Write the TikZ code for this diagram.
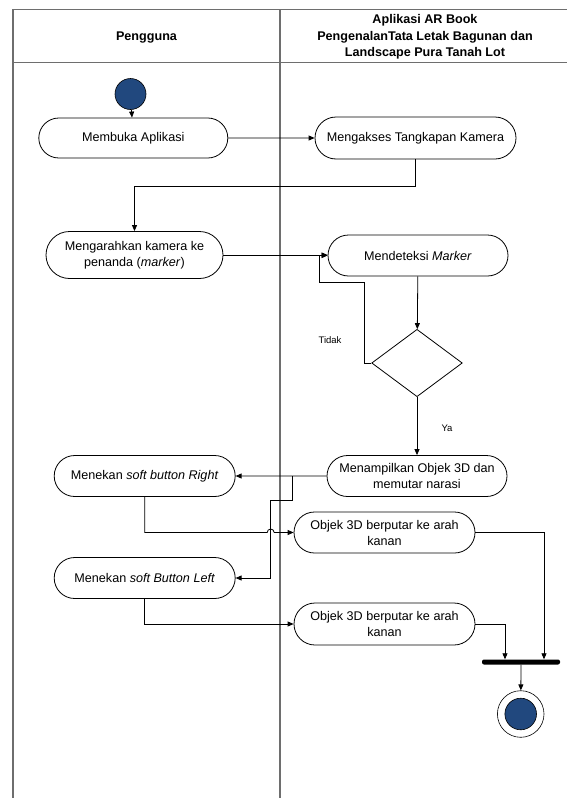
\documentclass[tikz,border=0pt]{standalone}
\usepackage{fontspec}
\setmainfont{Liberation Sans}
\usetikzlibrary{shapes.misc,shapes.geometric,arrows.meta,calc}
\definecolor{umlblue}{RGB}{33,72,126}
\definecolor{framegray}{RGB}{110,110,110}
\begin{document}
\begin{tikzpicture}[x=1pt,y=-1pt,
  act/.style={rounded rectangle, draw, line width=0.8pt, minimum height=41pt, align=center,
    font=\fontsize{12.6}{16}\selectfont, inner sep=2pt},
  arr/.style={line width=0.8pt, -{Triangle[length=6pt,width=5pt]}},
  plain/.style={line width=0.8pt},
  lane/.style={draw=framegray, line width=1.3pt},
  hdr/.style={font=\bfseries\fontsize{12.6}{16.5}\selectfont, align=center},
  lbl/.style={font=\fontsize{9.5}{11}\selectfont}
]
\useasboundingbox (0,0) rectangle (567,798);
% swimlane frame
\draw[lane] (567,9.3) -- (13,9.3) -- (13,798);
\draw[lane] (13,62.3) -- (567,62.3);
\draw[lane] (280,9.3) -- (280,798);
\node[hdr] (h1) at (146.5,37) {Pengguna};
\node[hdr] (h2) at (425,37) {Aplikasi AR Book\\PengenalanTata Letak Bagunan dan\\Landscape Pura Tanah Lot};

% nodes
\node[circle, draw, fill=umlblue, line width=0.6pt, minimum size=31pt, inner sep=0] (start) at (130.5,94) {};
\node[act, minimum width=193pt, minimum height=40pt] (m1) at (133.3,138) {Membuka Aplikasi};
\node[act, minimum width=205pt, minimum height=42pt] (m2) at (415.5,138) {Mengakses Tangkapan Kamera};
\node[act, minimum width=181pt, minimum height=47pt] (m3) at (134.5,255) {Mengarahkan kamera ke\\penanda (\textit{marker})};
\node[act, minimum width=184pt] (m4) at (418,255.5) {Mendeteksi \textit{Marker}};
\node[diamond, draw, line width=0.8pt, minimum width=90.6pt, minimum height=67.4pt, inner sep=0] (d) at (417,363) {};
\node[act, minimum width=184pt] (m5) at (417,476) {Menampilkan Objek 3D dan\\memutar narasi};
\node[act, minimum width=185pt] (r) at (144.7,476) {Menekan \textit{soft button Right}};
\node[act, minimum width=185pt] (o1) at (384.5,532.5) {Objek 3D berputar ke arah\\kanan};
\node[act, minimum width=185pt] (l) at (144.7,578) {Menekan \textit{soft Button Left}};
\node[act, minimum width=185pt, minimum height=42pt] (o2) at (384.5,624) {Objek 3D berputar ke arah\\kanan};
\node[fill=black, inner sep=0, minimum width=78pt, minimum height=5pt, rounded corners=2pt] (bar) at (521,662) {};
\node[circle, draw, line width=0.6pt, minimum size=46.6pt, inner sep=0] (end) at (520.7,714) {};
\node[circle, draw, fill=umlblue, line width=0.6pt, minimum size=31.6pt, inner sep=0] (endin) at (520.7,714) {};

% labels
\node[lbl] (tidak) at (330,340) {Tidak};
\node[lbl] (ya) at (447,428) {Ya};

% connectors
\draw[arr] (start) -- (m1);
\draw[arr] (m1) -- (m2);
\draw[arr] (m2.south) -- (m2.south |- 0,186) -| (m3.north);
\draw[arr] (m3.east) -- (m3.east -| m4.west);
\draw[arr] (m4) -- (d);
\coordinate (t1) at (364.3,282.7);
\coordinate (t2) at (319,282.7);
\draw[arr] (d.west) -| (t1) -- (t2) |- (m4.west);
\draw[arr] (d) -- (m5);
\draw[arr] (m5) -- (r);
\coordinate (j1) at (292,476);
\coordinate (j2) at (292,500.7);
\coordinate (j3) at (270.7,500.7);
\draw[arr] (j1) -- (j2) -- (j3) |- (l.east);
\coordinate (k1) at (267.2,532.5);
\draw[arr] (r.south) |- (k1) arc[start angle=180, end angle=0, radius=3.5pt] -- (o1.west);
\draw[arr] (l.south) |- (o2.west);
\draw[arr] (o1.east) -| ([xshift=23pt]bar.north);
\draw[arr] (o2.east) -| ([xshift=-16pt]bar.north);
\draw[arr] (bar) -- (end);
\end{tikzpicture}
\end{document}
